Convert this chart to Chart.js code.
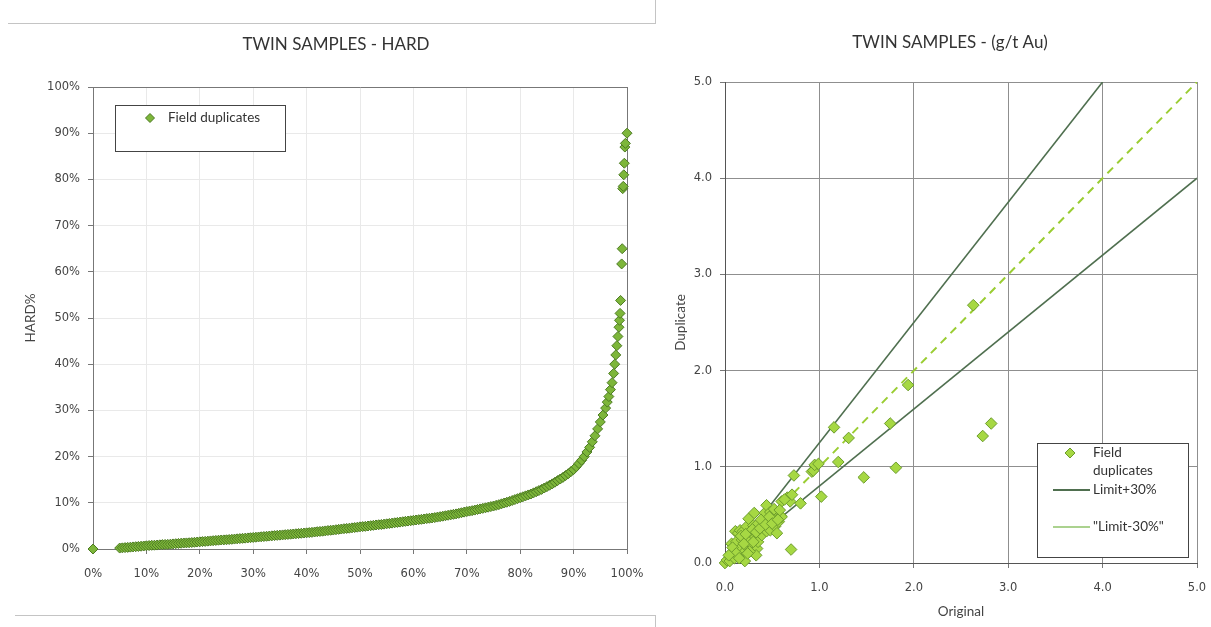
<!DOCTYPE html>
<html>
<head>
<meta charset="utf-8">
<script src="https://cdn.jsdelivr.net/npm/chart.js@4"></script>
<style>
  body { margin: 0; background: #fff; width: 1211px; height: 627px; position: relative; overflow: hidden; }
  canvas { position: absolute; top: 0; }
  #hardChart { left: 0; }
  #auChart { left: 660px; }
  .rule { position: absolute; background: #c4c4c4; }
</style>
</head>
<body>
<div class="rule" style="left:8px;top:23px;width:647px;height:1px"></div>
<div class="rule" style="left:655px;top:0;width:1px;height:24px"></div>
<div class="rule" style="left:15px;top:615px;width:640px;height:1px"></div>
<div class="rule" style="left:655px;top:615px;width:1px;height:12px"></div>
<canvas id="hardChart" width="655" height="627"></canvas>
<canvas id="auChart" width="551" height="627"></canvas>
<script>
// ranked HARD values (x = percentile rank %, y = HARD%)
const hardRank = [0,
  5,5.5,6,6.5,7,7.5,8,8.5,9,9.5,10,10.5,11,11.5,12,12.5,13,13.5,14,14.5,
  15,15.5,16,16.5,17,17.5,18,18.5,19,19.5,20,20.5,21,21.5,22,22.5,23,23.5,24,24.5,
  25,25.5,26,26.5,27,27.5,28,28.5,29,29.5,30,30.5,31,31.5,32,32.5,33,33.5,34,34.5,
  35,35.5,36,36.5,37,37.5,38,38.5,39,39.5,40,40.5,41,41.5,42,42.5,43,43.5,44,44.5,
  45,45.5,46,46.5,47,47.5,48,48.5,49,49.5,50,50.5,51,51.5,52,52.5,53,53.5,54,54.5,
  55,55.5,56,56.5,57,57.5,58,58.5,59,59.5,60,60.5,61,61.5,62,62.5,63,63.5,64,64.5,
  65,65.5,66,66.5,67,67.5,68,68.5,69,69.5,70,70.5,71,71.5,72,72.5,73,73.5,74,74.5,
  75,75.5,76,76.5,77,77.5,78,78.5,79,79.5,80,80.5,81,81.5,82,82.5,83,83.5,84,84.5,
  85,85.5,86,86.5,87,87.5,88,88.5,89,89.5,
  90,90.5,91,91.5,92,92.5,93,93.5,94,94.5,95,95.5,96,
  96.3,96.6,96.9,97.2,97.5,97.7,97.9,98.1,98.3,98.5,98.6,98.7,98.8,
  99.0,99.1,99.2,99.3,99.4,99.5,99.6,99.7,100];
const hardValue = [0,
  0.20,0.25,0.30,0.35,0.40,0.45,0.50,0.55,0.60,0.65,0.70,0.75,0.80,0.82,0.85,0.90,0.95,0.98,1.00,1.05,
  1.10,1.15,1.20,1.25,1.30,1.32,1.35,1.40,1.45,1.50,1.55,1.60,1.65,1.70,1.75,1.80,1.85,1.90,1.95,1.97,
  2.00,2.05,2.10,2.15,2.20,2.25,2.30,2.35,2.40,2.45,2.50,2.55,2.60,2.65,2.70,2.75,2.80,2.85,2.90,2.95,
  3.00,3.05,3.10,3.15,3.20,3.25,3.30,3.35,3.40,3.45,3.50,3.55,3.60,3.68,3.75,3.80,3.85,3.92,4.00,4.05,
  4.10,4.18,4.25,4.32,4.40,4.45,4.50,4.58,4.65,4.72,4.80,4.85,4.90,4.98,5.05,5.12,5.20,5.25,5.30,5.38,
  5.45,5.52,5.60,5.68,5.75,5.82,5.90,5.98,6.05,6.12,6.20,6.28,6.35,6.42,6.50,6.58,6.65,6.72,6.80,6.90,
  7.00,7.10,7.20,7.30,7.40,7.50,7.60,7.72,7.85,7.98,8.10,8.20,8.30,8.42,8.55,8.68,8.80,8.92,9.05,9.18,
  9.30,9.45,9.60,9.78,9.95,10.12,10.30,10.50,10.70,10.90,11.10,11.30,11.50,11.70,11.90,12.15,12.40,12.65,12.90,13.20,
  13.50,13.80,14.10,14.45,14.80,15.15,15.50,15.90,16.30,16.75,
  17.2,17.8,18.5,19.2,20.0,21.0,22.0,23.2,24.5,26.0,27.5,29.0,30.5,
  31.8,33.0,34.5,36.0,38.0,40.0,42.0,44.0,46.0,48.0,49.5,51.0,53.8,
  61.7,65.0,78.0,78.5,81.0,83.5,87.0,87.8,90.0];

// twin sample pairs, g/t Au
const origAu = [0.00,0.02,0.05,0.07,0.09,0.11,0.12,0.14,0.14,0.16,0.16,0.18,0.19,0.21,0.21,0.23,0.23,
  0.25,0.25,0.27,0.28,0.30,0.31,0.32,0.34,0.35,0.35,0.39,0.41,0.42,0.44,0.44,0.46,0.48,0.48,
  0.51,0.53,0.55,0.55,0.57,0.59,0.60,0.60,0.66,0.69,0.70,0.71,0.73,0.80,0.92,0.935,0.95,0.99,
  1.02,1.155,1.20,1.31,1.47,1.75,1.81,1.94,2.63,2.73,2.82,0.33,0.05,0.10,0.26,
  0.08,0.12,0.17,0.20,0.22,0.24,0.29,0.30,0.33,0.37,0.38,0.43,0.47,0.50,0.52,0.58,0.63,0.56,0.04,0.15];
const dupAu = [0.00,0.03,0.07,0.20,0.12,0.33,0.22,0.31,0.08,0.34,0.15,0.24,0.33,0.12,0.02,0.38,0.17,
  0.46,0.26,0.33,0.19,0.39,0.52,0.27,0.15,0.41,0.22,0.29,0.45,0.52,0.60,0.33,0.41,0.53,0.34,
  0.46,0.38,0.52,0.31,0.43,0.49,0.64,0.48,0.68,0.64,0.14,0.71,0.91,0.62,0.95,0.96,1.02,1.03,
  0.69,1.41,1.05,1.30,0.89,1.45,0.99,1.85,2.68,1.32,1.45,0.08,0.02,0.05,0.12,
  0.16,0.10,0.28,0.20,0.30,0.10,0.35,0.22,0.32,0.36,0.45,0.40,0.48,0.41,0.56,0.55,0.66,0.45,0.08,0.05];

// reference lines (endpoints, g/t Au)
const limitHighX = [0, 4], limitHighY = [0, 5];
const limitLowX = [0, 5], limitLowY = [0, 4];
const oneToOneX = [0, 5], oneToOneY = [0, 5];

const pairs = (xs, ys) => xs.map((x, i) => ({ x: x, y: ys[i] }));

const tickFont = { family: 'DejaVu Sans', size: 11.5 };
const textColor = '#444';

// keep label overhang from shrinking the plot, the layout padding covers it
const fixWidth = w => s => { s.width = w; s.paddingTop = 0; s.paddingBottom = 0; };
const fixHeight = h => s => { s.height = h; s.paddingLeft = 0; s.paddingRight = 0; };

// title drawn at a fixed spot above the plot
const panelTitle = {
  id: 'panelTitle',
  afterDraw(chart, args, opts) {
    const ctx = chart.ctx;
    ctx.save();
    ctx.font = '17px Lato';
    ctx.fillStyle = '#333';
    ctx.textAlign = 'center';
    ctx.textBaseline = 'middle';
    ctx.fillText(opts.text, opts.x, opts.y);
    ctx.restore();
  }
};

// boxed legend inside the plot
const boxLegend = {
  id: 'boxLegend',
  afterDraw(chart, args, opts) {
    const ctx = chart.ctx;
    ctx.save();
    ctx.fillStyle = '#fff';
    ctx.fillRect(opts.left, opts.top, opts.width, opts.height);
    ctx.strokeStyle = '#444';
    ctx.lineWidth = 1;
    ctx.strokeRect(opts.left + 0.5, opts.top + 0.5, opts.width, opts.height);
    ctx.font = '13.5px Lato';
    ctx.textBaseline = 'middle';
    ctx.textAlign = 'left';
    opts.items.forEach(it => {
      const y = opts.top + it.dy;
      if (it.kind === 'point') {
        const r = it.radius;
        const cx = opts.left + opts.markX;
        ctx.beginPath();
        ctx.moveTo(cx, y - r); ctx.lineTo(cx + r, y); ctx.lineTo(cx, y + r); ctx.lineTo(cx - r, y);
        ctx.closePath();
        ctx.fillStyle = it.fill; ctx.fill();
        ctx.strokeStyle = it.stroke; ctx.lineWidth = 1; ctx.stroke();
      } else {
        ctx.beginPath();
        ctx.moveTo(opts.left + opts.lineFrom, y);
        ctx.lineTo(opts.left + opts.lineTo, y);
        ctx.strokeStyle = it.stroke; ctx.lineWidth = it.width;
        ctx.stroke();
      }
      ctx.fillStyle = '#333';
      it.label.forEach((t, k) => ctx.fillText(t, opts.left + opts.textX, y + k * 18));
    });
    ctx.restore();
  }
};

new Chart(document.getElementById('hardChart'), {
  type: 'scatter',
  data: {
    datasets: [{
      label: 'Field duplicates',
      data: pairs(hardRank, hardValue),
      pointStyle: 'rectRot',
      pointRadius: 5,
      backgroundColor: '#7db63a',
      borderColor: '#4c7a22',
      borderWidth: 1,
      clip: false
    }]
  },
  options: {
    responsive: false,
    animation: false,
    layout: { padding: { left: 0, right: 28, top: 87, bottom: 0 } },
    plugins: {
      legend: { display: false },
      tooltip: { enabled: false },
      panelTitle: { text: 'TWIN SAMPLES - HARD', x: 336, y: 45 },
      boxLegend: {
        left: 115, top: 105, width: 170, height: 46,
        markX: 35, textX: 53, lineFrom: 0, lineTo: 0,
        items: [{ kind: 'point', dy: 13, radius: 4.5, fill: '#7db63a', stroke: '#4c7a22', label: ['Field duplicates'] }]
      }
    },
    scales: {
      x: {
        type: 'linear', min: 0, max: 100,
        afterFit: fixHeight(78),
        ticks: { stepSize: 10, padding: 13, color: textColor, font: tickFont, callback: v => v + '%' },
        grid: { color: c => c.tick && c.tick.value === 100 ? '#777' : '#e9e9e9', tickColor: '#777', tickLength: 5 },
        border: { color: '#777' }
      },
      y: {
        type: 'linear', min: 0, max: 100,
        afterFit: fixWidth(93),
        ticks: { stepSize: 10, padding: 8, color: textColor, font: tickFont, callback: v => v + '%' },
        grid: { color: c => c.tick && c.tick.value === 100 ? '#777' : '#e9e9e9', tickColor: '#777', tickLength: 5 },
        border: { color: '#777' },
        title: { display: true, text: 'HARD%', color: textColor, font: { family: 'Lato', size: 13.5 }, padding: { top: 23, bottom: 0 } }
      }
    }
  },
  plugins: [panelTitle, boxLegend]
});

new Chart(document.getElementById('auChart'), {
  type: 'scatter',
  data: {
    datasets: [
      {
        label: 'Field duplicates',
        data: pairs(origAu, dupAu),
        pointStyle: 'rectRot',
        pointRadius: 5.8,
        backgroundColor: '#a6d843',
        borderColor: '#6c9c2c',
        borderWidth: 1,
        clip: false,
        order: 0
      },
      {
        label: 'Limit+30%',
        data: pairs(limitHighX, limitHighY),
        showLine: true, pointRadius: 0,
        borderColor: '#4f6f4f', borderWidth: 1.6,
        order: 1
      },
      {
        label: '"Limit-30%"',
        data: pairs(limitLowX, limitLowY),
        showLine: true, pointRadius: 0,
        borderColor: '#4f6f4f', borderWidth: 1.6,
        order: 1
      },
      {
        label: '1:1',
        data: pairs(oneToOneX, oneToOneY),
        showLine: true, pointRadius: 0,
        borderColor: '#9acd32', borderWidth: 2, borderDash: [8, 6],
        order: 1
      }
    ]
  },
  options: {
    responsive: false,
    animation: false,
    layout: { padding: { left: 0, right: 14, top: 82, bottom: 0 } },
    plugins: {
      legend: { display: false },
      tooltip: { enabled: false },
      panelTitle: { text: 'TWIN SAMPLES - (g/t Au)', x: 290, y: 43 },
      boxLegend: {
        left: 377, top: 443, width: 151, height: 114,
        markX: 33, textX: 56, lineFrom: 16, lineTo: 53,
        items: [
          { kind: 'point', dy: 10, radius: 5, fill: '#a6d843', stroke: '#6c9c2c', label: ['Field', 'duplicates'] },
          { kind: 'line', dy: 47, stroke: '#4f6f4f', width: 2, label: ['Limit+30%'] },
          { kind: 'line', dy: 84, stroke: '#8fc36a', width: 1.5, label: ['"Limit-30%"'] }
        ]
      }
    },
    scales: {
      x: {
        type: 'linear', min: 0, max: 5,
        afterFit: fixHeight(64),
        ticks: { stepSize: 1, padding: 13, color: textColor, font: tickFont, callback: v => v.toFixed(1) },
        grid: { color: '#8f8f8f', tickColor: '#777', tickLength: 5 },
        border: { color: '#555' },
        title: { display: true, text: 'Original', color: textColor, font: { family: 'Lato', size: 13.5 }, padding: { top: 0, bottom: 7 } }
      },
      y: {
        type: 'linear', min: 0, max: 5,
        afterFit: fixWidth(65),
        ticks: { stepSize: 1, padding: 8, color: textColor, font: tickFont, callback: v => v.toFixed(1) },
        grid: { color: '#8f8f8f', tickColor: '#777', tickLength: 5 },
        border: { color: '#555' },
        title: { display: true, text: 'Duplicate', color: textColor, font: { family: 'Lato', size: 13.5 }, padding: { top: 13, bottom: 0 } }
      }
    }
  },
  plugins: [panelTitle, boxLegend]
});
</script>
</body>
</html>
